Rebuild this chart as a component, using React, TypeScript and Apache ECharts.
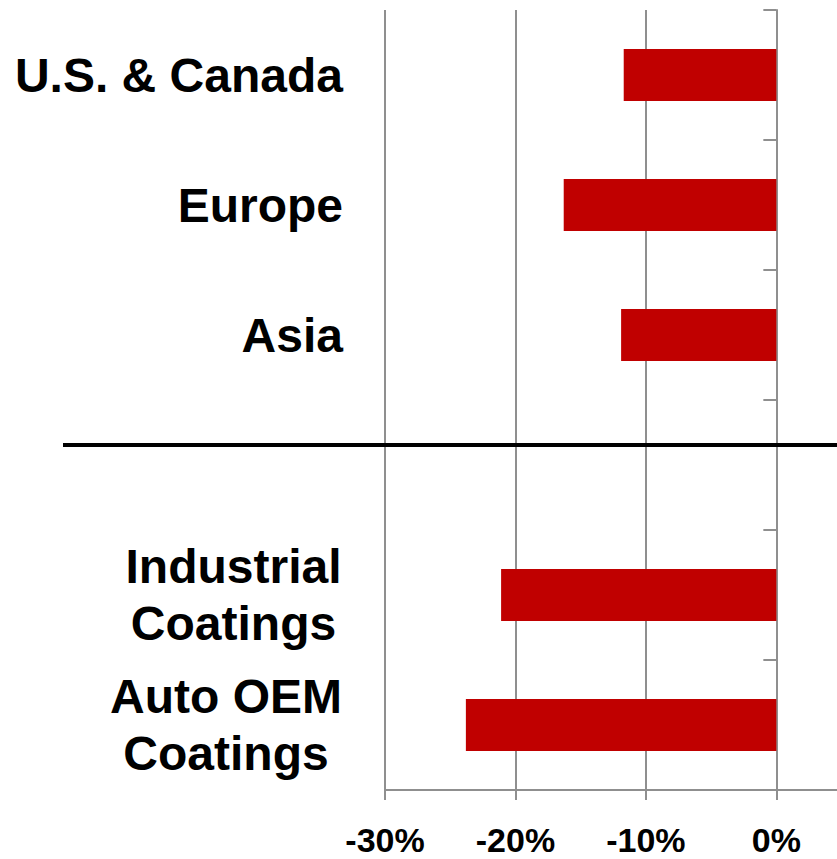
import React, { useEffect, useRef } from "react";
import * as echarts from "echarts";

const categories = ["U.S. & Canada", "Europe", "Asia", "", "Industrial\nCoatings", "Auto OEM\nCoatings"];
const changes: (number | null)[] = [-11.7, -16.3, -11.9, null, -21.1, -23.8];
const xTicks = [-30, -20, -10, 0];
const xMax = 4.65;

const FONT = "'Liberation Sans', Arial, Helvetica, sans-serif";
const LABEL_SIZE = 48;

let ctx: CanvasRenderingContext2D | null = null;
function measure(t: string): number {
  if (!ctx) ctx = document.createElement("canvas").getContext("2d");
  if (!ctx) return t.length * LABEL_SIZE * 0.6;
  ctx.font = `bold ${LABEL_SIZE}px ${FONT}`;
  return ctx.measureText(t).width;
}

export default function App() {
  const ref = useRef<HTMLDivElement>(null);
  useEffect(() => {
    if (!ref.current) return;
    const chart = echarts.init(ref.current, undefined, { renderer: "svg" });
    const rich: Record<string, any> = {};
    const fmtCat = (v: string, idx: number) => {
      const lines = v.split("\n");
      if (lines.length === 1) return v;
      const w = Math.ceil(Math.max(...lines.map(measure))) + 2;
      const key = "c" + idx;
      rich[key] = {
        width: w,
        align: "center",
        fontSize: LABEL_SIZE,
        fontWeight: "bold",
        fontFamily: FONT,
        color: "#000",
        lineHeight: 57,
      };
      return lines.map((l) => `{${key}|${l}}`).join("\n");
    };
    categories.forEach((c, i) => fmtCat(c, i));
    const grayLine = "#8f8f8f";
    chart.setOption({
      animation: false,
      grid: { left: 385, top: 10, bottom: 69, right: 0, containLabel: false },
      xAxis: {
        type: "value",
        min: xTicks[0],
        max: xMax,
        interval: 10,
        axisLine: { show: true, lineStyle: { color: grayLine, width: 2 } },
        axisTick: { show: true, length: 10, lineStyle: { color: grayLine, width: 2 } },
        splitLine: { show: true, showMaxLine: false, lineStyle: { color: grayLine, width: 2 } },
        axisLabel: {
          showMaxLabel: false,
          margin: 35,
          lineHeight: 30,
          fontSize: 34,
          fontWeight: "bold",
          fontFamily: FONT,
          color: "#000",
          formatter: (v: number) => `${v}%`,
        },
      },
      yAxis: [
        {
          type: "category",
          inverse: true,
          data: categories,
          position: "left",
          axisLine: { show: true, onZero: true, lineStyle: { color: grayLine, width: 2 } },
          axisTick: { show: true, length: 13, lineStyle: { color: grayLine, width: 2 } },
          axisLabel: { show: false },
          splitLine: { show: false },
        },
        {
          type: "category",
          inverse: true,
          data: categories,
          position: "left",
          axisLine: { show: false, onZero: false },
          axisTick: { show: false },
          splitLine: { show: false },
          axisLabel: {
            margin: 42,
            fontSize: LABEL_SIZE,
            fontWeight: "bold",
            fontFamily: FONT,
            color: "#000",
            lineHeight: 57,
            formatter: (v: string, idx: number) => fmtCat(v, idx),
            rich,
          },
        },
      ],
      series: [
        {
          type: "bar",
          yAxisIndex: 0,
          data: changes,
          barWidth: "40%",
          itemStyle: { color: "#C00000" },
          z: 1,
        },
      ],
      graphic: [
        {
          type: "line",
          z: 100,
          shape: { x1: 63, y1: 445, x2: 837, y2: 445 },
          style: { stroke: "#000", lineWidth: 4 },
        },
      ],
    });
    return () => chart.dispose();
  }, []);
  return (
    <div
      ref={ref}
      style={{ position: "absolute", left: 0, top: 0, width: 837, height: 859 }}
    />
  );
}
